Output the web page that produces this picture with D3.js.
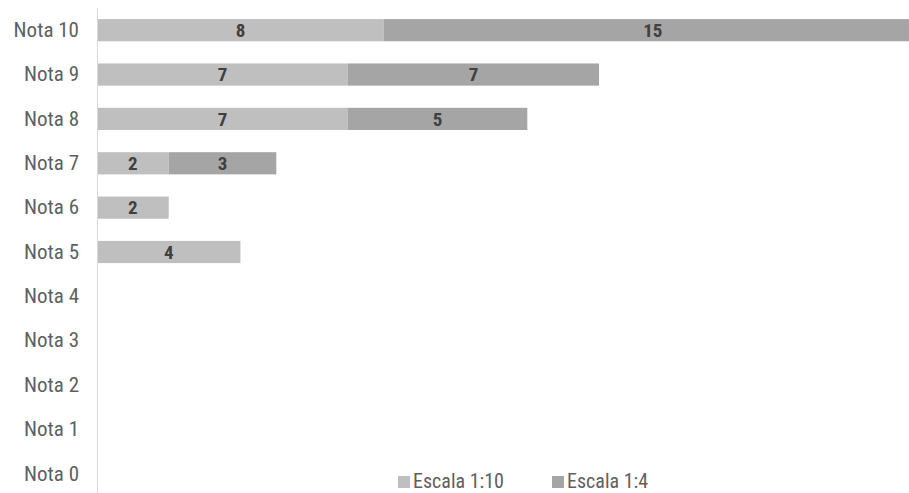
<!DOCTYPE html>
<html>
<head>
<meta charset="utf-8">
<script src="https://cdn.jsdelivr.net/npm/d3@7"></script>
<style>
  body { margin: 0; background: #fff; }
  svg { display: block; }
  text { font-family: "Liberation Sans Narrow", "Arial Narrow", "Roboto Condensed", "Liberation Sans", sans-serif; }
</style>
</head>
<body>
<div id="chart"></div>
<script>
// data
var notas = ['Nota 10', 'Nota 9', 'Nota 8', 'Nota 7', 'Nota 6', 'Nota 5', 'Nota 4', 'Nota 3', 'Nota 2', 'Nota 1', 'Nota 0']
var escala10 = [8, 7, 7, 2, 2, 4, 0, 0, 0, 0, 0]
var escala4 = [15, 7, 5, 3, 0, 0, 0, 0, 0, 0, 0]
var series = ['Escala 1:10', 'Escala 1:4']
var colors = ['#bfbfbf', '#a5a5a5']

var width = 909
var height = 493

var rows = notas.map(function (n, i) {
    return { nota: n, a: escala10[i], b: escala4[i] }
})
var stacked = d3.stack().keys(['a', 'b'])(rows)

var x = d3.scaleLinear()
    .domain([0, 23])
    .range([97, 921.8])

var y = d3.scaleBand()
    .domain(notas)
    .range([8, 496])
    .paddingInner(0.5)
    .paddingOuter(0.25)

var svg = d3.select('#chart')
    .append('svg')
    .attr('width', width)
    .attr('height', height)

// bars
var layer = svg.selectAll('g.layer')
    .data(stacked)
    .enter()
    .append('g')
    .attr('class', 'layer')
    .attr('fill', function (d, i) { return colors[i] })

layer.selectAll('rect')
    .data(function (d) { return d })
    .enter()
    .filter(function (d) { return d[1] > d[0] })
    .append('rect')
    .attr('x', function (d) { return x(d[0]) })
    .attr('y', function (d) { return y(d.data.nota) })
    .attr('width', function (d) { return x(d[1]) - x(d[0]) })
    .attr('height', y.bandwidth())

// value labels
layer.selectAll('text')
    .data(function (d) { return d })
    .enter()
    .filter(function (d) { return d[1] > d[0] })
    .append('text')
    .attr('x', function (d) { return (x(d[0]) + x(d[1])) / 2 })
    .attr('y', function (d) { return y(d.data.nota) + y.bandwidth() / 2 })
    .attr('dy', '0.36em')
    .attr('text-anchor', 'middle')
    .attr('fill', '#404040')
    .style('font-size', '19px')
    .style('font-weight', 'bold')
    .text(function (d) { return d[1] - d[0] })

// y axis
var yAxis = svg.append('g')
    .attr('transform', 'translate(97,0)')
    .call(d3.axisLeft(y).tickSize(0).tickPadding(18))
yAxis.select('.domain').attr('stroke', '#d9d9d9').attr('d', 'M0.5,8V493')
yAxis.selectAll('text')
    .attr('fill', '#5f5f5f')
    .style('font-size', '21px')

// legend
var legend = svg.selectAll('g.legend')
    .data(series)
    .enter()
    .append('g')
    .attr('class', 'legend')
    .attr('transform', function (d, i) { return 'translate(' + [398, 552][i] + ',481)' })
legend.append('rect')
    .attr('x', 0)
    .attr('y', -5)
    .attr('width', 12)
    .attr('height', 12)
    .attr('fill', function (d, i) { return colors[i] })
legend.append('text')
    .attr('x', 15)
    .attr('dy', '0.36em')
    .attr('fill', '#5f5f5f')
    .style('font-size', '20px')
    .text(function (d) { return d })
</script>
</body>
</html>
